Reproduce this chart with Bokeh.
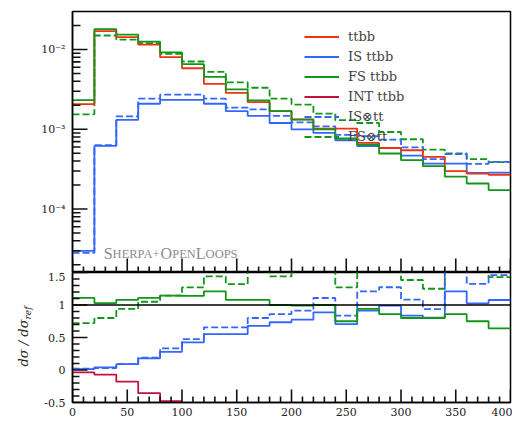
import math

from bokeh.core.properties import value
from bokeh.embed import file_html
from bokeh.layouts import column, row
from bokeh.models import (CustomJSTickFormatter, FixedTicker, Legend,
                          LegendItem, Range1d, Span, Spacer)
from bokeh.plotting import figure
from bokeh.resources import INLINE

# ---------------------------------------------------------------- data
bin_edges = list(range(0, 420, 20))

ttbb = [2.07e-3, 1.70e-2, 1.43e-2, 1.15e-2, 8.02e-3, 5.83e-3, 3.72e-3, 2.86e-3,
        2.19e-3, 1.69e-3, 1.33e-3, 1.02e-3, 1.02e-3, 6.75e-4, 5.83e-4, 5.46e-4,
        4.51e-4, 2.99e-4, 2.78e-4, 2.69e-4]
is_ttbb = [2.99e-5, 6.18e-4, 1.31e-3, 2.09e-3, 2.34e-3, 2.34e-3, 2.09e-3, 1.69e-3,
           1.47e-3, 1.20e-3, 1.00e-3, 9.00e-4, 7.29e-4, 6.17e-4, 5.84e-4, 4.67e-4,
           3.71e-4, 3.71e-4, 2.84e-4, 2.86e-4]
fs_ttbb = [2.32e-3, 1.80e-2, 1.54e-2, 1.26e-2, 9.23e-3, 6.55e-3, 4.53e-3, 3.16e-3,
           2.30e-3, 1.69e-3, 1.32e-3, 1.00e-3, 7.66e-4, 6.40e-4, 4.97e-4, 4.10e-4,
           3.45e-4, 2.55e-4, 2.09e-4, 1.73e-4]
is_x_tt = [2.82e-5, 6.31e-4, 1.45e-3, 2.42e-3, 2.72e-3, 2.72e-3, 2.42e-3, 1.87e-3,
           1.78e-3, 1.47e-3, 1.22e-3, 1.09e-3, 8.53e-4, 8.18e-4, 7.43e-4, 5.92e-4,
           4.22e-4, 4.87e-4, 3.68e-4, 3.91e-4]
fs_x_tt = [1.54e-3, 1.50e-2, 1.33e-2, 1.20e-2, 8.83e-3, 7.08e-3, 5.26e-3, 3.87e-3,
           3.32e-3, 2.42e-3, 2.04e-3, 1.57e-3, 1.30e-3, 1.20e-3, 9.25e-4, 7.50e-4,
           5.55e-4, 4.97e-4, 4.22e-4, 3.87e-4]

# ratios to the reference prediction
ratio_is_ttbb = [0.014, 0.04, 0.09, 0.18, 0.28, 0.425, 0.553, 0.553, 0.68, 0.735,
                 0.775, 0.888, 0.707, 0.914, 0.99, 0.837, 0.806, 1.21, 1.026, 1.077]
ratio_fs_ttbb = [1.11, 1.03, 1.08, 1.11, 1.145, 1.14, 1.21, 1.08, 1.08, 1.0,
                 0.99, 1.0, 0.75, 0.94, 0.86, 0.80, 0.80, 0.86, 0.75, 0.64]
ratio_int_ttbb = [-0.037, -0.072, -0.18, -0.356, -0.48]
ratio_is_x_tt = [0.02, 0.03, 0.09, 0.19, 0.333, 0.476, 0.656, 0.656, 0.80, 0.86,
                 0.914, 1.108, 0.837, 1.21, 1.273, 1.083, 0.938, 1.63, 1.324, 1.46]
ratio_fs_x_tt = [0.72, 0.80, 0.94, 1.05, 1.145, 1.27, 1.44, 1.32, 1.52, 1.44,
                 1.53, 1.54, 1.27, 1.78, 1.59, 1.385, 1.25, 1.66, 1.52, 1.43]

x_major = list(range(0, 401, 50))
x_minor = [t for t in range(0, 401, 10) if t % 50]
log_major = [1e-4, 1e-3, 1e-2]
log_minor = [m * 10.0 ** e for e in (-5, -4, -3, -2) for m in range(2, 10)]
ratio_major = [-0.5, 0.0, 0.5, 1.0, 1.5]
ratio_minor = [round(-0.5 + 0.1 * k, 2) for k in range(21) if k % 5]

# ---------------------------------------------------------------- style
RED = "#EE3311"
BLUE = "#3366FF"
GREEN = "#109618"
CRIMSON = "#C4103F"
TICK = "#111111"
SERIF = "DejaVu Serif"
LW = 1.8
DASH = "7 3"

LABEL_W = 34          # strip left of the panels holding the ratio title
FRAME_W = 438
MAIN_H = 261
RATIO_H = 130
X_LO, X_HI = 0, 400
Y_LO, Y_HI = 1.6e-5, 0.03
R_LO, R_HI = -0.5, 1.5

px_per_x = FRAME_W / (X_HI - X_LO)
px_per_dec = MAIN_H / math.log10(Y_HI / Y_LO)
px_per_r = RATIO_H / (R_HI - R_LO)
NAN = float("nan")


def hist(vals):
    """x/y arrays for a step line over the first len(vals) bins."""
    n = len(vals)
    return bin_edges[: n + 1], list(vals) + [vals[-1]]


def label_axis(ax):
    ax.major_tick_in = 0
    ax.major_tick_out = 0
    ax.minor_tick_in = 0
    ax.minor_tick_out = 0
    ax.axis_line_width = 1.5
    ax.axis_line_color = "black"
    ax.major_label_text_font = SERIF
    ax.major_label_text_font_size = "11px"
    ax.major_label_text_color = "#222222"


def y_shift(v, px, log):
    return v * 10 ** (px / px_per_dec) if log else v + px / px_per_r


def inward_ticks(p, ticks, length_px, side, log=False, lo=None, hi=None):
    """Tick marks pointing into the frame, one short step line each."""
    for t in ticks:
        if side == "left":
            if not (lo < t < hi):
                continue
            xs = [X_LO, X_LO + length_px / px_per_x]
            ys = [t, t]
        else:
            xs = [t, t]
            ys = [lo, y_shift(lo, length_px, log)]
        p.step(xs, ys, mode="after", line_color=TICK, line_width=1.6)


# ---------------------------------------------------------------- main panel
p1 = figure(frame_width=FRAME_W, frame_height=MAIN_H, min_border_left=72 - LABEL_W,
            min_border_right=2, min_border_top=11, min_border_bottom=0,
            x_range=Range1d(X_LO, X_HI), y_range=Range1d(Y_LO, Y_HI),
            y_axis_type="log", output_backend="svg", toolbar_location=None)
p1.grid.visible = False
p1.outline_line_color = "black"
p1.outline_line_width = 1.5
p1.xaxis.visible = False

label_axis(p1.yaxis[0])
p1.yaxis.ticker = FixedTicker(ticks=log_major, minor_ticks=[])
p1.yaxis.formatter = CustomJSTickFormatter(code="""
    const e = Math.round(Math.log10(tick));
    const sup = {"-": "\u207b", "0": "\u2070", "1": "\u00b9", "2": "\u00b2",
                 "3": "\u00b3", "4": "\u2074", "5": "\u2075", "6": "\u2076",
                 "7": "\u2077", "8": "\u2078", "9": "\u2079"};
    return "10" + String(e).split("").map(c => sup[c]).join("");
""")
p1.yaxis.major_label_standoff = 7

x, y = hist(fs_x_tt)
r_fsx = p1.step(x, y, mode="after", color=GREEN, line_width=LW, line_dash=DASH)
x, y = hist(is_x_tt)
r_isx = p1.step(x, y, mode="after", color=BLUE, line_width=LW, line_dash=DASH)
x, y = hist(is_ttbb)
r_is = p1.step(x, y, mode="after", color=BLUE, line_width=LW)
x, y = hist(ttbb)
r_tt = p1.step(x, y, mode="after", color=RED, line_width=LW)
x, y = hist(fs_ttbb)
r_fs = p1.step(x, y, mode="after", color=GREEN, line_width=LW)
# the interference term is negative: on the log panel only its key is shown
r_int = p1.line(x=[X_LO, X_LO], y=[NAN, NAN], color=CRIMSON, line_width=LW)

inward_ticks(p1, log_major, 15, "left", log=True, lo=Y_LO, hi=Y_HI)
inward_ticks(p1, log_minor, 8, "left", log=True, lo=Y_LO, hi=Y_HI)
inward_ticks(p1, x_major, 14, "bottom", log=True, lo=Y_LO)
inward_ticks(p1, x_minor, 6, "bottom", log=True, lo=Y_LO)

legend = Legend(items=[
    LegendItem(label="ttbb", renderers=[r_tt]),
    LegendItem(label="IS ttbb", renderers=[r_is]),
    LegendItem(label="FS ttbb", renderers=[r_fs]),
    LegendItem(label="INT ttbb", renderers=[r_int]),
    LegendItem(label="IS\u2297tt", renderers=[r_isx]),
    LegendItem(label="FS\u2297tt", renderers=[r_fsx]),
], location=(232, 127), padding=0, spacing=3, glyph_width=35, glyph_height=17,
    label_height=17, label_standoff=9, label_text_font=SERIF,
    label_text_font_size="13px", background_fill_alpha=0, border_line_alpha=0)
p1.add_layout(legend)

# generator tag in small capitals
tag_x = 28.5
tag_y = 2.74e-5
tag_pieces = ["S", "HERPA+", "O", "PEN", "L", "OOPS"]
tag_sizes = ["16px", "12.5px", "16px", "12.5px", "16px", "12.5px"]
tag_offsets = [0.0, 8.9, 56.9, 68.5, 92.1, 101.9]
for txt, size, off in zip(tag_pieces, tag_sizes, tag_offsets):
    p1.text(x=[tag_x], y=[tag_y], text=[txt], x_offset=off,
            text_font=value("Liberation Serif"), text_font_size=size,
            text_color="#8a8a96", text_baseline="alphabetic", text_align="left")

# ---------------------------------------------------------------- ratio panel
p2 = figure(frame_width=FRAME_W, frame_height=RATIO_H, min_border_left=72 - LABEL_W,
            min_border_right=2, min_border_top=0, min_border_bottom=20,
            x_range=p1.x_range, y_range=Range1d(R_LO, R_HI),
            output_backend="svg", toolbar_location=None)
p2.grid.visible = False
p2.outline_line_color = "black"
p2.outline_line_width = 1.5

label_axis(p2.yaxis[0])
p2.yaxis.ticker = FixedTicker(ticks=ratio_major, minor_ticks=[])
p2.yaxis.formatter = CustomJSTickFormatter(
    code="return Math.abs(tick - Math.round(tick)) < 1e-9 ? tick.toFixed(0) : tick.toFixed(1);")
p2.yaxis.major_label_standoff = 7

label_axis(p2.xaxis[0])
p2.xaxis.ticker = FixedTicker(ticks=x_major, minor_ticks=[])
p2.xaxis.major_label_standoff = 5

x, y = hist(ratio_fs_x_tt)
p2.step(x, y, mode="after", color=GREEN, line_width=LW, line_dash=DASH)
x, y = hist(ratio_is_x_tt)
p2.step(x, y, mode="after", color=BLUE, line_width=LW, line_dash=DASH)
x, y = hist(ratio_is_ttbb)
p2.step(x, y, mode="after", color=BLUE, line_width=LW)
x, y = hist(ratio_fs_ttbb)
p2.step(x, y, mode="after", color=GREEN, line_width=LW)
x, y = hist(ratio_int_ttbb)
p2.step(x, y, mode="after", color=CRIMSON, line_width=LW)
p2.add_layout(Span(location=1.0, dimension="width", line_color="black",
                   line_width=1.5))

inward_ticks(p2, ratio_major, 15, "left", lo=R_LO - 1, hi=R_HI + 1)
inward_ticks(p2, ratio_minor, 7, "left", lo=R_LO - 1, hi=R_HI + 1)
inward_ticks(p2, x_major, 13, "bottom", lo=R_LO)
inward_ticks(p2, x_minor, 6, "bottom", lo=R_LO)

# ---------------------------------------------------------------- ratio title strip
strip_h = RATIO_H + 20
lab = figure(frame_width=LABEL_W, frame_height=strip_h, min_border=0,
             x_range=Range1d(0, LABEL_W), y_range=Range1d(0, strip_h),
             x_axis_location=None, y_axis_location=None,
             output_backend="svg", toolbar_location=None)
lab.grid.visible = False
lab.outline_line_color = None
title_y = strip_h - (319 - 272)
lab.text(x=[23], y=[title_y], text=["d\u03c3 / d\u03c3"], angle=math.pi / 2,
         text_align="right", text_baseline="middle", text_font=value(SERIF),
         text_font_style="italic", text_font_size="13px", text_color="#222222")
lab.text(x=[27.5], y=[title_y], text=["ref"], angle=math.pi / 2,
         text_align="left", text_baseline="middle", text_font=value(SERIF),
         text_font_style="italic", text_font_size="9px", text_color="#222222")

layout = column(row(Spacer(width=LABEL_W, height=MAIN_H + 11), p1),
                row(lab, p2), spacing=0)
open("out.html", "w").write(file_html(layout, INLINE))
